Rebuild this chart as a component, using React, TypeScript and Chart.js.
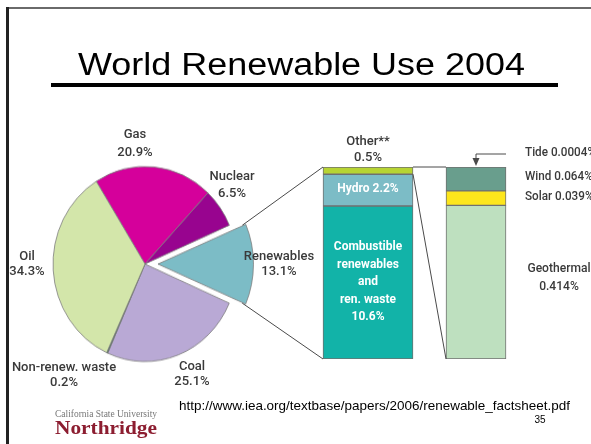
import React, { useEffect, useRef } from 'react';
import { Chart, registerables } from 'chart.js';

Chart.register(...registerables);

// ---------- data ----------
const TITLE = 'World Renewable Use 2004';
const SOURCE = 'http://www.iea.org/textbase/papers/2006/renewable_factsheet.pdf';
const PAGE_NO = '35';
const LOGO_TOP = 'California State University';
const LOGO_MAIN = 'Northridge';

const pieLabels = ['Gas', 'Nuclear', 'Renewables', 'Coal', 'Non-renew. waste', 'Oil'];
const pieValues = [20.9, 6.5, 13.1, 25.1, 0.2, 34.3];
const pieColors = ['#D5009B', '#98048F', '#7CBCC6', '#B9A9D5', '#2E6A4C', '#D3E6AA'];
const EXPLODED = 'Renewables';

const renewLabels = ['Combustible renewables and ren. waste', 'Hydro', 'Other**'];
const renewLines = [['Combustible', 'renewables', 'and', 'ren. waste'], ['Hydro'], ['Other**']];
const renewValues = [10.6, 2.2, 0.5];
const renewColors = ['#12B3A8', '#7CBCC6', '#B7D433'];

const otherLabels = ['Geothermal', 'Solar', 'Wind', 'Tide'];
const otherValues = [0.414, 0.039, 0.064, 0.0004];
const otherColors = ['#BEE0BF', '#FDE61C', '#699E8D', '#3D6B5E'];

// ---------- layout ----------
const W = 591;
const H = 444;
const PIE = { left: 35, top: 154, size: 220, radius: 92, sy: 1.06, explode: 13 };
const BAR = { left: 304, top: 157, w: 236, h: 212, pad: 10 };
const LABEL_FONT = '500 13px Roboto, "DejaVu Sans", sans-serif';
const LABEL_BOLD = 'bold 12px Roboto, "DejaVu Sans", sans-serif';
const LABEL_COLOR = '#3a3a3a';
const LINE_COLOR = '#4a4a4a';
// first-line centre and line gap of each pie label
const pieLabelAt: Record<string, [number, number, number]> = {
  Gas: [135, 135, 18],
  Nuclear: [232, 177, 17],
  Renewables: [279, 257, 15],
  Coal: [192, 367, 15],
  'Non-renew. waste': [64, 368, 15],
  Oil: [27, 257, 15],
};

const sum = (a: number[]) => a.reduce((s, v) => s + v, 0);
const pct = (v: number) => `${v}%`;

function txt(
  ctx: CanvasRenderingContext2D,
  s: string,
  x: number,
  y: number,
  font: string,
  color: string,
  align: CanvasTextAlign = 'center',
  sx = 1
) {
  ctx.save();
  ctx.font = font;
  ctx.fillStyle = color;
  ctx.textAlign = align;
  ctx.textBaseline = 'middle';
  ctx.translate(x, y);
  ctx.scale(sx, 1);
  ctx.fillText(s, 0, 0);
  ctx.restore();
}

function fitText(ctx: CanvasRenderingContext2D, s: string, x: number, y: number, width: number, font: string, color: string) {
  ctx.save();
  ctx.font = font;
  ctx.fillStyle = color;
  ctx.textAlign = 'left';
  ctx.textBaseline = 'alphabetic';
  const w = ctx.measureText(s).width;
  ctx.translate(x, y);
  ctx.scale(width / w, 1);
  ctx.fillText(s, 0, 0);
  ctx.restore();
}

function line(ctx: CanvasRenderingContext2D, a: number[], b: number[]) {
  ctx.beginPath();
  ctx.moveTo(a[0], a[1]);
  ctx.lineTo(b[0], b[1]);
  ctx.stroke();
}

export default function App() {
  const pieRef = useRef<HTMLCanvasElement>(null);
  const barRef = useRef<HTMLCanvasElement>(null);
  const ovRef = useRef<HTMLCanvasElement>(null);

  useEffect(() => {
    const pie = new Chart(pieRef.current!, {
      type: 'pie',
      data: {
        labels: pieLabels,
        datasets: [
          {
            data: pieValues,
            backgroundColor: pieColors,
            borderColor: '#7d7d7d',
            borderWidth: 0.8,
            hoverOffset: 0,
            offset: (c: any) => (pieLabels[c.dataIndex] === EXPLODED ? PIE.explode * 4 : 0),
          } as any,
        ],
      },
      options: {
        responsive: false,
        animation: false,
        events: [],
        radius: PIE.radius,
        rotation: -32,
        layout: { padding: 0 },
        plugins: { legend: { display: false }, tooltip: { enabled: false } },
      } as any,
    });

    const datasets: any[] = [
      ...renewValues.map((v, i) => ({
        label: renewLabels[i],
        data: [v, null],
        backgroundColor: renewColors[i],
        yAxisID: 'y',
        stack: 'all',
        barThickness: 90,
      })),
      ...otherValues.map((v, i) => ({
        label: otherLabels[i],
        data: [null, v],
        backgroundColor: otherColors[i],
        yAxisID: 'y2',
        stack: 'all',
        barThickness: 60,
      })),
    ].map((d) => ({ ...d, borderColor: '#707070', borderWidth: 1, borderSkipped: false }));

    const bar = new Chart(barRef.current!, {
      type: 'bar',
      data: { labels: ['Renewables', 'Other**'], datasets },
      options: {
        responsive: false,
        animation: false,
        events: [],
        layout: { padding: BAR.pad },
        scales: {
          x: { display: false, stacked: true },
          y: { display: false, stacked: true, min: 0, max: sum(renewValues) },
          y2: { display: false, stacked: true, min: 0, max: sum(otherValues), position: 'right' },
        },
        plugins: { legend: { display: false }, tooltip: { enabled: false } },
      } as any,
    });

    const ctx = ovRef.current!.getContext('2d')!;
    ctx.clearRect(0, 0, W, H);

    // slide frame
    ctx.fillStyle = '#6a6a6a';
    ctx.fillRect(6, 7, W - 6, 2);
    ctx.fillStyle = '#222';
    ctx.fillRect(6, 7, 3, H - 7);

    // title
    fitText(ctx, TITLE, 78, 75, 447, '31px "Liberation Sans", Arial, sans-serif', '#000');
    ctx.fillStyle = '#000';
    ctx.fillRect(51, 83, 507, 4);

    // pie labels
    pieLabels.forEach((l, i) => {
      const [x, y, gap] = pieLabelAt[l];
      txt(ctx, l, x, y, LABEL_FONT, LABEL_COLOR);
      txt(ctx, pct(pieValues[i]), x, y + gap, LABEL_FONT, LABEL_COLOR);
    });

    ctx.strokeStyle = LINE_COLOR;
    ctx.lineWidth = 1;

    // pie -> left bar connectors
    const arc: any = pie.getDatasetMeta(0).data[pieLabels.indexOf(EXPLODED)];
    const { x, y, startAngle, endAngle, outerRadius } = arc.getProps(['x', 'y', 'startAngle', 'endAngle', 'outerRadius'], true);
    const mid = (startAngle + endAngle) / 2;
    const ecx = x + Math.cos(mid) * PIE.explode;
    const ecy = y + Math.sin(mid) * PIE.explode;
    const toPage = (px: number, py: number) => [PIE.left + px, PIE.top + PIE.size / 2 + (py - PIE.size / 2) * PIE.sy];
    const a1 = toPage(ecx + outerRadius * Math.cos(startAngle), ecy + outerRadius * Math.sin(startAngle));
    const a2 = toPage(ecx + outerRadius * Math.cos(endAngle), ecy + outerRadius * Math.sin(endAngle));

    const el = (ds: number, idx: number): any => bar.getDatasetMeta(ds).data[idx];
    const comb = el(0, 0);
    const hydro = el(1, 0);
    const oth = el(2, 0);
    const nR = renewValues.length;
    const geo = el(nR, 1);
    const sol = el(nR + 1, 1);
    const wind = el(nR + 2, 1);
    const tide = el(nR + 3, 1);
    const bx = (v: number) => BAR.left + v;
    const by = (v: number) => BAR.top + v;

    const lbL = bx(comb.x - comb.width / 2);
    const lbR = bx(comb.x + comb.width / 2);
    const lTop = by(oth.y);
    const lBot = by(comb.base);
    line(ctx, a1, [lbL, lTop]);
    line(ctx, a2, [lbL, lBot]);

    const rbL = bx(geo.x - geo.width / 2);
    const rbR = bx(geo.x + geo.width / 2);
    const rTop = by(tide.y);
    const rBot = by(geo.base);
    line(ctx, [lbR, lTop], [rbL, rTop]);
    line(ctx, [lbR, by(oth.base)], [rbL, rBot]);

    // left bar labels
    const lcx = bx(comb.x);
    txt(ctx, renewLines[2][0], lcx, lTop - 25, LABEL_FONT, LABEL_COLOR);
    txt(ctx, pct(renewValues[2]), lcx, lTop - 9, LABEL_FONT, LABEL_COLOR);
    txt(ctx, `${renewLines[1][0]} ${pct(renewValues[1])}`, lcx, by((hydro.y + hydro.base) / 2) - 1, LABEL_BOLD, '#fff');
    const combLines = [...renewLines[0], pct(renewValues[0])];
    const cMid = by((comb.y + comb.base) / 2);
    combLines.forEach((s, i) => {
      txt(ctx, s, lcx, cMid + (i - (combLines.length - 1) / 2) * 17.5, LABEL_BOLD, '#fff');
    });

    // tide arrow
    const ax = bx(geo.x);
    const ay = rTop - 13;
    line(ctx, [ax, ay], [rbR, ay]);
    line(ctx, [ax, ay], [ax, rTop - 8]);
    ctx.fillStyle = LINE_COLOR;
    ctx.beginPath();
    ctx.moveTo(ax - 3.5, rTop - 9);
    ctx.lineTo(ax + 3.5, rTop - 9);
    ctx.lineTo(ax, rTop - 1);
    ctx.closePath();
    ctx.fill();

    // right bar labels
    const rx = rbR + 19;
    const cond = 0.9;
    txt(ctx, `${otherLabels[3]} ${pct(otherValues[3])}`, rx, ay - 1, LABEL_FONT, LABEL_COLOR, 'left', cond);
    txt(ctx, `${otherLabels[2]} ${pct(otherValues[2])}`, rx, by((wind.y + wind.base) / 2) - 2, LABEL_FONT, LABEL_COLOR, 'left', cond);
    txt(ctx, `${otherLabels[1]} ${pct(otherValues[1])}`, rx, by((sol.y + sol.base) / 2) - 1, LABEL_FONT, LABEL_COLOR, 'left', cond);
    const gMid = by((geo.y + geo.base) / 2);
    txt(ctx, otherLabels[0], 559, gMid - 13, LABEL_FONT, LABEL_COLOR, 'center', 0.93);
    txt(ctx, pct(otherValues[0]), 559, gMid + 5, LABEL_FONT, LABEL_COLOR, 'center', 0.93);

    // footer
    fitText(ctx, LOGO_TOP, 55, 417, 102, '10px "Liberation Serif", "Times New Roman", serif', '#777');
    fitText(ctx, LOGO_MAIN, 55, 434, 102, 'bold 18px "Liberation Serif", "Times New Roman", serif', '#8C1D30');
    fitText(ctx, SOURCE, 179, 410, 391, '13px "Liberation Sans", Arial, sans-serif', '#000');
    txt(ctx, PAGE_NO, 540, 420, '10px "Liberation Sans", Arial, sans-serif', '#000');

    return () => {
      pie.destroy();
      bar.destroy();
    };
  }, []);

  return (
    <div style={{ position: 'fixed', left: 0, top: 0, width: W, height: H, background: '#fff', overflow: 'hidden' }}>
      <canvas
        ref={pieRef}
        width={PIE.size}
        height={PIE.size}
        style={{ position: 'absolute', left: PIE.left, top: PIE.top, transform: `scaleY(${PIE.sy})`, transformOrigin: `${PIE.size / 2}px ${PIE.size / 2}px` }}
      />
      <canvas ref={barRef} width={BAR.w} height={BAR.h} style={{ position: 'absolute', left: BAR.left, top: BAR.top }} />
      <canvas ref={ovRef} width={W} height={H} style={{ position: 'absolute', left: 0, top: 0 }} />
    </div>
  );
}
